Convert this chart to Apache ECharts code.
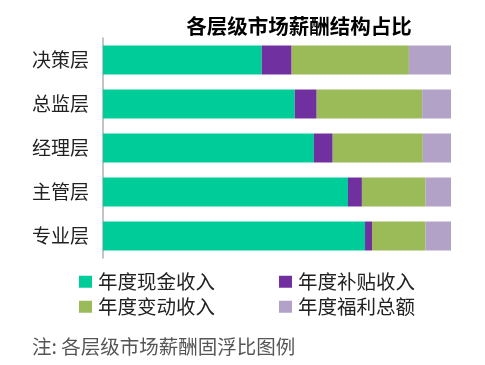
<!DOCTYPE html>
<html>
<head>
<meta charset="utf-8">
<script src="https://cdn.jsdelivr.net/npm/echarts@6/dist/echarts.min.js"></script>
<style>html,body{margin:0;padding:0;background:#fff}#c{width:485px;height:365px}</style>
</head>
<body>
<div id="c"></div>
<script>
var categories = ['决策层', '总监层', '经理层', '主管层', '专业层'];
var seriesNames = ['年度现金收入', '年度补贴收入', '年度变动收入', '年度福利总额'];
var cashIncome = [45.6, 55.1, 60.6, 70.4, 75.3];
var subsidyIncome = [8.6, 6.3, 5.4, 4.0, 2.0];
var variableIncome = [33.7, 30.3, 25.9, 18.3, 15.4];
var welfareTotal = [12.1, 8.3, 8.1, 7.3, 7.3];
var colors = ['#00CC99', '#7030A0', '#9BBB59', '#B3A2C7'];

var font = '"Noto Sans CJK SC", sans-serif';
var values = [cashIncome, subsidyIncome, variableIncome, welfareTotal];
var series = seriesNames.map(function (n, i) {
  return {
    name: n, type: 'bar', stack: 'total', barWidth: 29,
    itemStyle: { color: colors[i] }, data: values[i], silent: true
  };
});
function lg(name, left, top) {
  return {
    data: [name], left: left, top: top, icon: 'rect', itemWidth: 13, itemHeight: 12,
    itemGap: 0, padding: 0, textStyle: { fontFamily: font, fontSize: 19.5, color: '#222', padding: [0, 0, 0, 1] }
  };
}
var chart = echarts.init(document.getElementById('c'), null, { renderer: 'canvas' });
chart.setOption({
  animation: false,
  title: [
    { text: '各层级市场薪酬结构占比', left: 294, top: 11, textAlign: 'center',
      textStyle: { fontFamily: font, fontSize: 20.5, fontWeight: 'bold', color: '#000' } },
    { text: '注: 各层级市场薪酬固浮比图例', left: 27, top: 332,
      textStyle: { fontFamily: font, fontSize: 19.5, fontWeight: 'normal', color: '#555' } }
  ],
  legend: [
    lg(seriesNames[0], 79, 272), lg(seriesNames[1], 279, 272),
    lg(seriesNames[2], 79, 297), lg(seriesNames[3], 279, 297)
  ],
  grid: { left: 103, right: 34, top: 38, bottom: 107 },
  xAxis: { type: 'value', min: 0, max: 100, show: false },
  yAxis: {
    type: 'category', data: categories, inverse: true,
    axisLine: { lineStyle: { color: '#b0b0b0', width: 1.5 } },
    axisTick: { show: false },
    axisLabel: { fontFamily: font, fontSize: 19, color: '#222', margin: 14 }
  },
  series: series
});
</script>
</body>
</html>
